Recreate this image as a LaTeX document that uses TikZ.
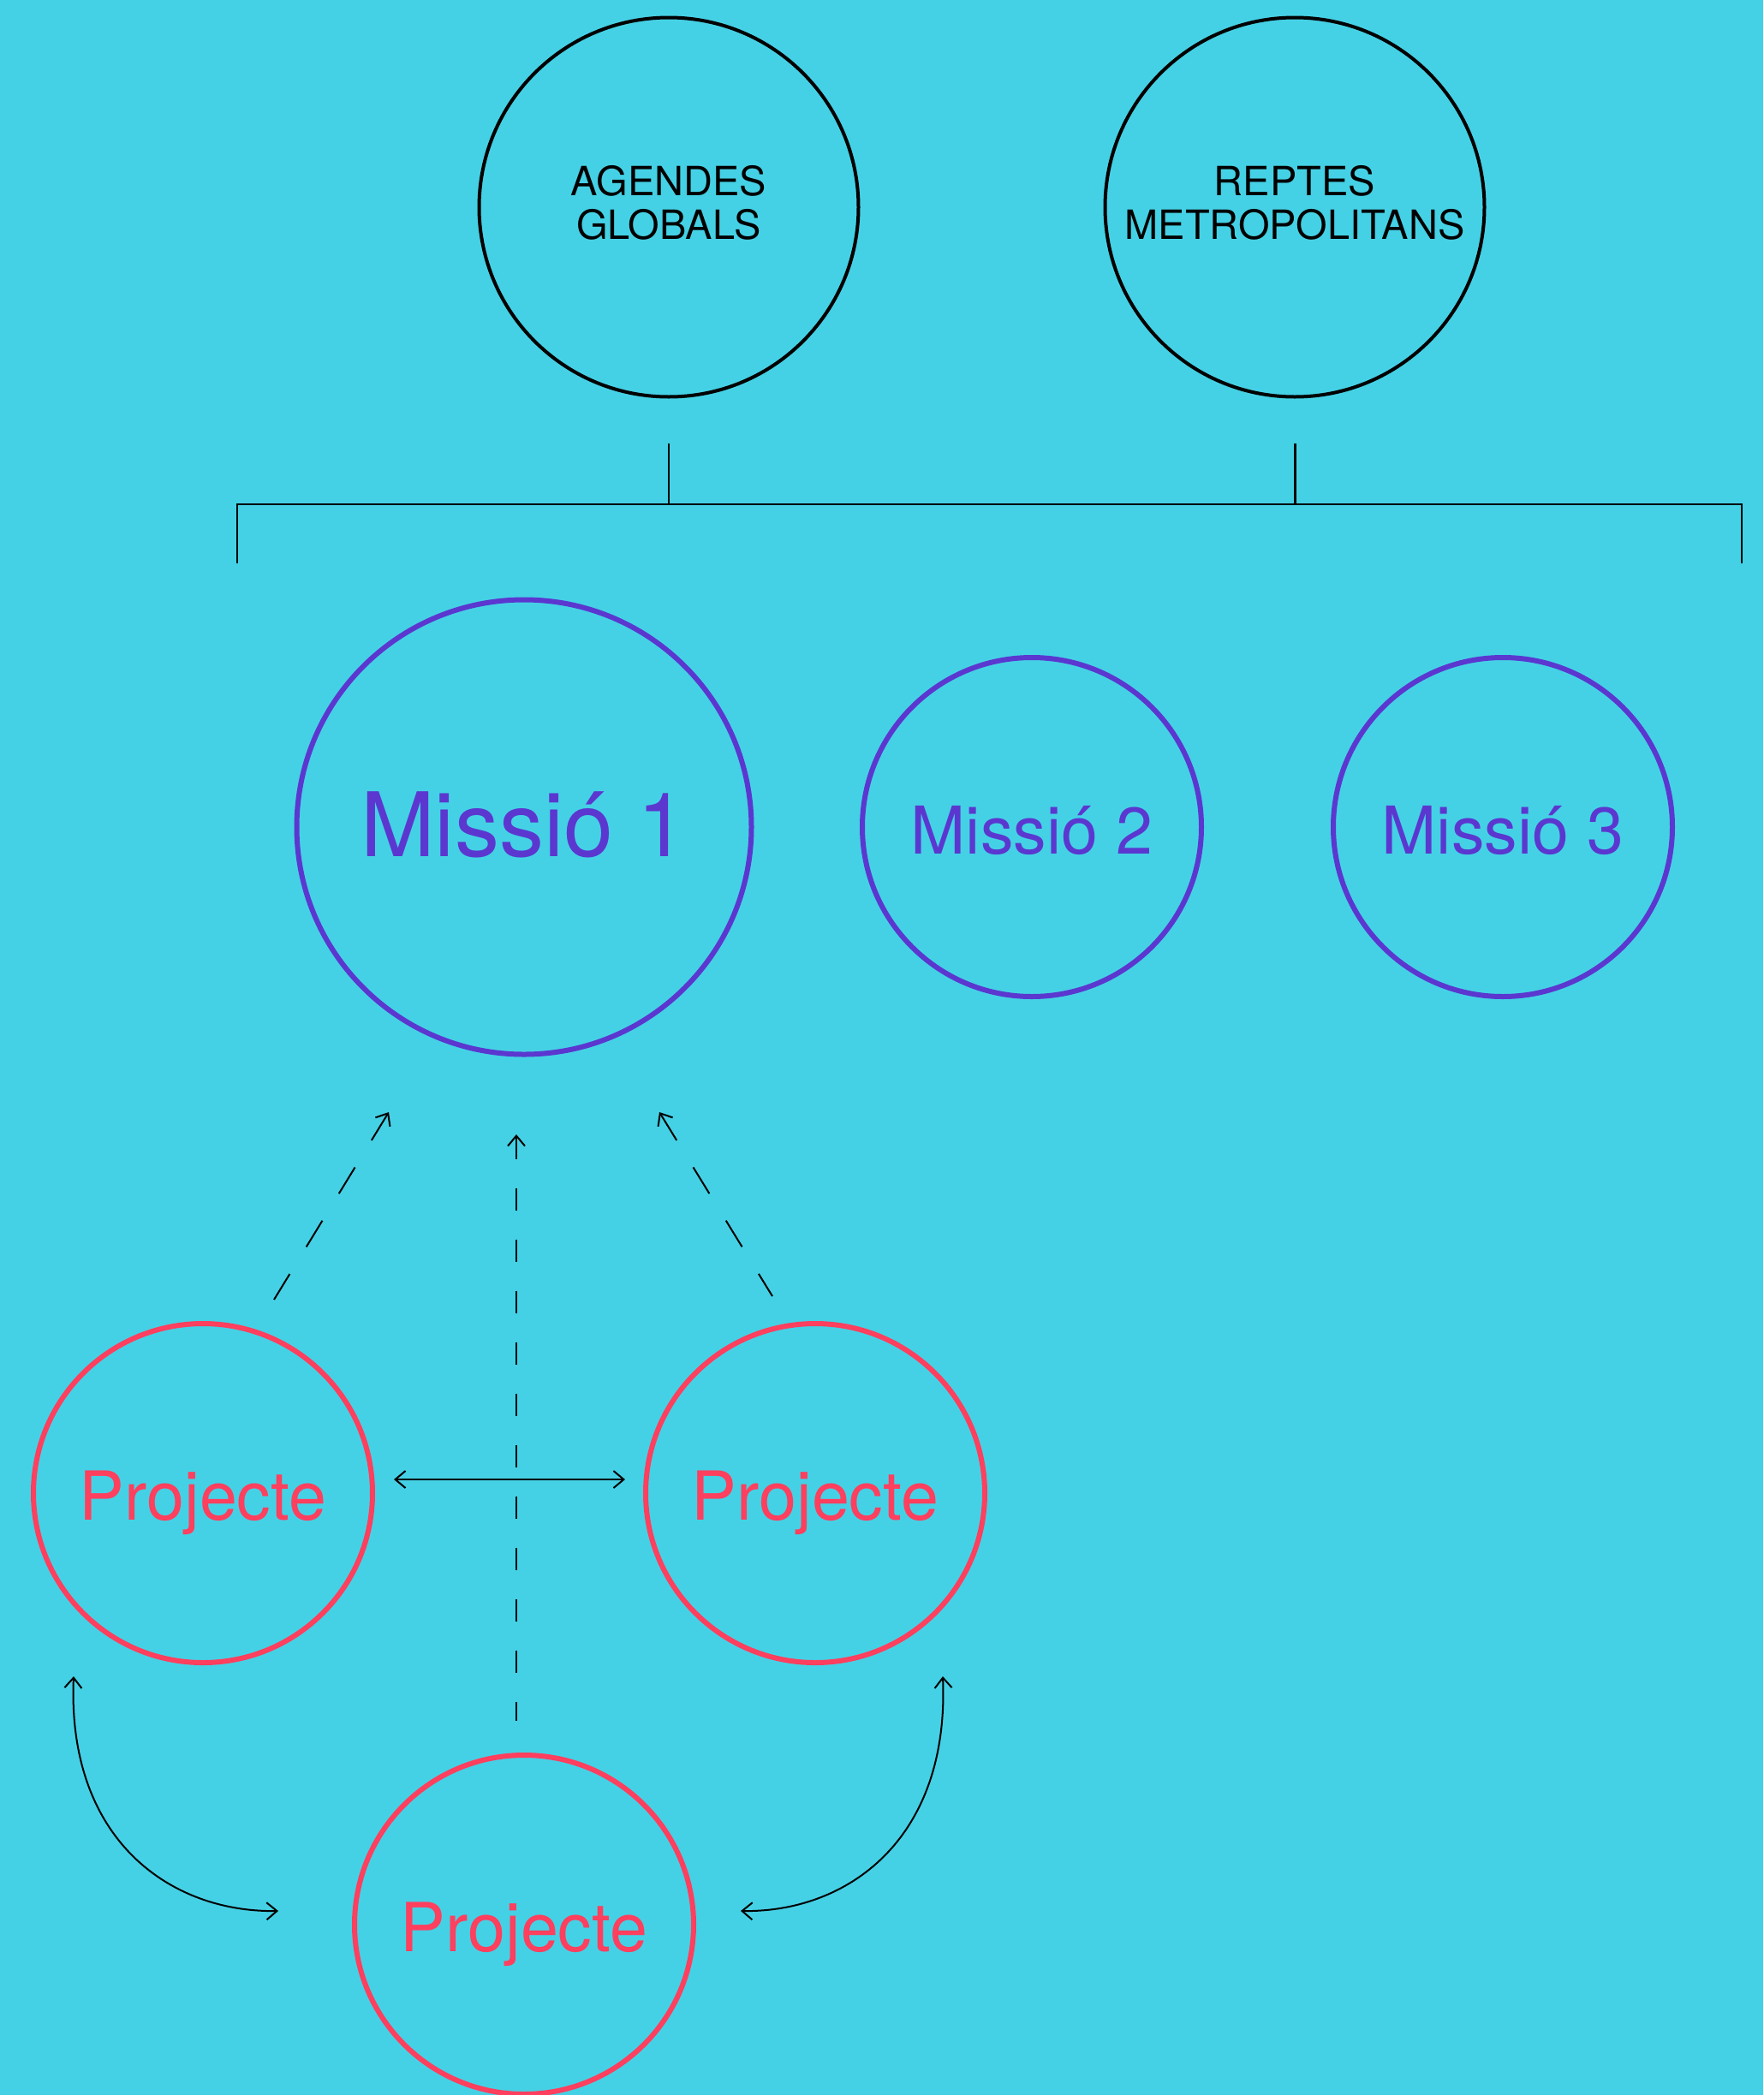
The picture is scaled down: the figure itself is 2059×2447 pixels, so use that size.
\documentclass[tikz,border=0pt]{standalone}
\usepackage{fontspec}
\setmainfont{TeX Gyre Heros}
\usetikzlibrary{arrows.meta}
\definecolor{bgc}{HTML}{45D1E5}
\definecolor{missc}{HTML}{5B37D0}
\definecolor{projc}{HTML}{FF3F5E}
\begin{document}
\begin{tikzpicture}[x=1pt,y=-1pt,
  topc/.style={circle,draw=black,line width=4pt,minimum size=443pt,inner sep=0pt,
    font=\fontsize{47}{51}\selectfont,align=center,text height=85pt,text depth=10pt},
  mbig/.style={circle,draw=missc,text=missc,line width=6pt,minimum size=531pt,inner sep=0pt,
    font=\fontsize{104}{114}\selectfont,text height=75pt,text depth=6pt},
  msmall/.style={circle,draw=missc,text=missc,line width=6pt,minimum size=396pt,inner sep=0pt,
    font=\fontsize{77}{85}\selectfont,text height=62pt,text depth=0pt},
  projnode/.style={circle,draw=projc,text=projc,line width=6pt,minimum size=396pt,inner sep=0pt,
    font=\fontsize{79}{87}\selectfont,text height=62pt,text depth=0pt},
  brk/.style={line width=2.2pt,line join=miter},
  tipstyle/.style={line width=2pt},
  dashv/.style={tipstyle,dash pattern=on 26pt off 34pt},
  dashd/.style={tipstyle,dash pattern=on 36pt off 37pt}
]
\fill[bgc] (0,0) rectangle (2059,2447);
\useasboundingbox (0,0) rectangle (2059,2447);

% top circles
\node[topc] (ag) at (781,242) {AGENDES\\GLOBALS};
\node[topc] (rp) at (1512,242) {REPTES\\METROPOLITANS};

% bracket
\coordinate (agb) at (781,518);
\coordinate (rpb) at (1512.5,518);
\coordinate (bl) at (277,658);
\coordinate (blt) at (277,589);
\coordinate (brt) at (2034,589);
\coordinate (br) at (2034,658);
\draw[brk] (bl) -- (blt) -- (brt) -- (br);
\draw[brk] (agb) -- (agb |- blt);
\draw[brk] (rpb) -- (rpb |- blt);

% missions
\node[mbig] (m1) at (612,966) {Missió 1};
\node[msmall] (m2) at (1205,966) {Missió 2};
\node[msmall] (m3) at (1755,966) {Missió 3};

% projects
\node[projnode] (p1) at (237,1744) {Projecte};
\node[projnode] (p2) at (952,1744) {Projecte};
\node[projnode] (p3) at (612,2248) {Projecte};

% dashed arrows to Missió 1
\coordinate (d1t) at (454,1299);
\coordinate (d1s) at (320,1518);
\coordinate (d2t) at (603,1325);
\coordinate (d2s) at (603,2010);
\coordinate (d3t) at (770,1299);
\coordinate (d3s) at (902,1514);
\draw[dashd,arrows={Straight Barb[length=12pt,width=20pt]-}] (d1t) -- (d1s);
\draw[dashv,arrows={Straight Barb[length=12pt,width=20pt]-}] (d2t) -- (d2s);
\draw[dashd,arrows={Straight Barb[length=12pt,width=20pt]-}] (d3t) -- (d3s);

% horizontal double arrow
\coordinate (h1) at (460,1728);
\coordinate (h2) at (730,1728);
\draw[tipstyle,arrows={Straight Barb[length=12pt,width=20pt]-Straight Barb[length=12pt,width=20pt]}] (h1) -- (h2);

% curved double arrows
\coordinate (c1a) at (86,1958);
\coordinate (c1b) at (325,2232);
\coordinate (c2a) at (1101,1958);
\coordinate (c2b) at (865,2232);
\draw[tipstyle,arrows={Straight Barb[length=12pt,width=20pt]-Straight Barb[length=12pt,width=20pt]}]
  (c1a) .. controls (78,2150) and (200,2234) .. (c1b);
\draw[tipstyle,arrows={Straight Barb[length=12pt,width=20pt]-Straight Barb[length=12pt,width=20pt]}]
  (c2a) .. controls (1109,2150) and (988,2234) .. (c2b);
\end{tikzpicture}
\end{document}
